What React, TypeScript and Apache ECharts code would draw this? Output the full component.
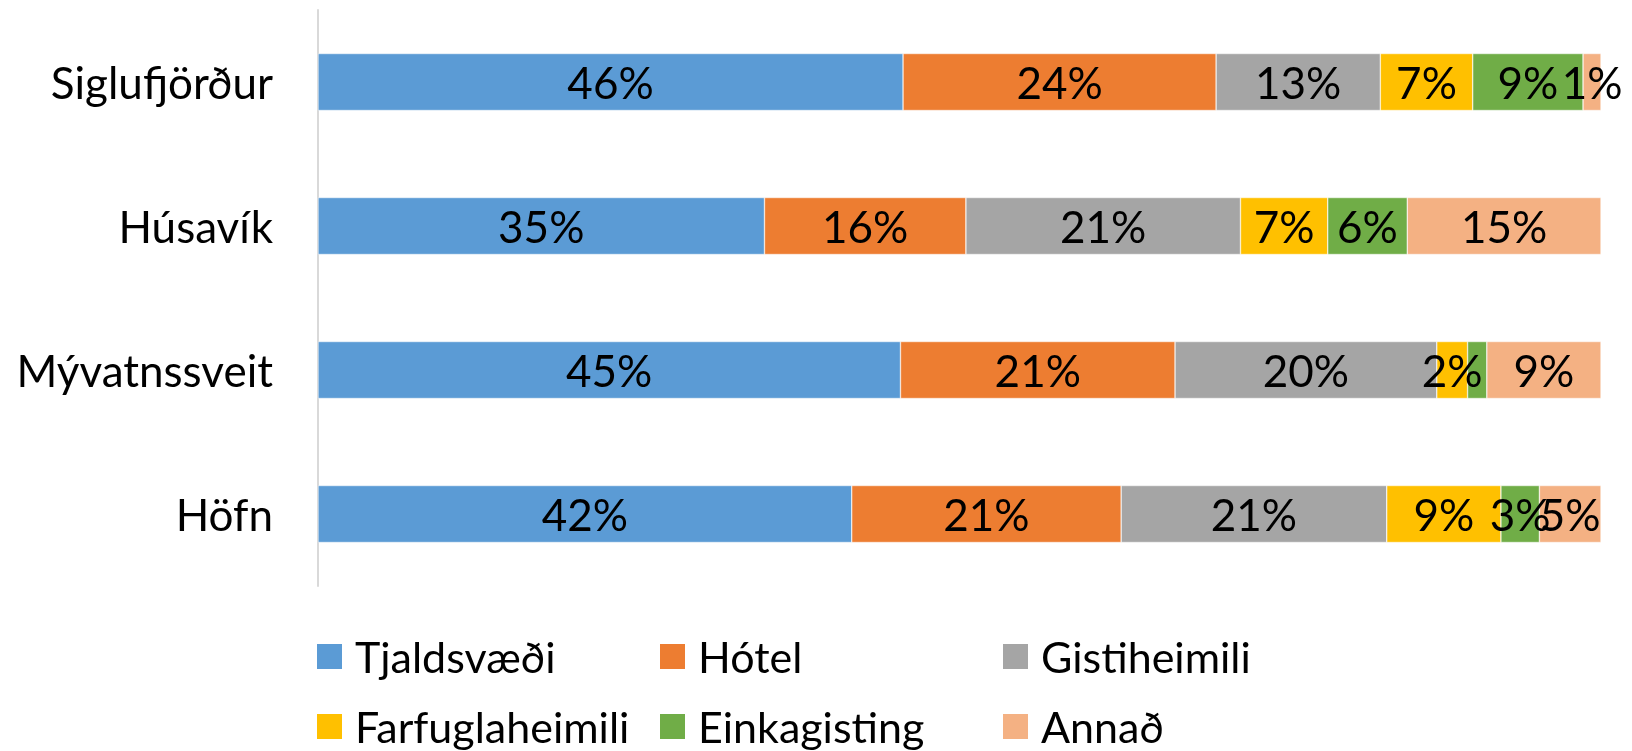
import React, { useEffect, useRef } from "react";
import * as echarts from "echarts";

const categories = ["Siglufjörður", "Húsavík", "Mývatnssveit", "Höfn"];
const seriesNames = ["Tjaldsvæði", "Hótel", "Gistiheimili", "Farfuglaheimili", "Einkagisting", "Annað"];
const tjaldsvaedi = [45.6, 34.8, 45.4, 41.6];
const hotel = [24.4, 15.7, 21.4, 21.0];
const gistiheimili = [12.8, 21.4, 20.4, 20.7];
const farfuglaheimili = [7.2, 6.8, 2.4, 8.9];
const einkagisting = [8.6, 6.2, 1.5, 3.0];
const annad = [1.4, 15.1, 8.9, 4.8];
// labels not shown in the reference: [seriesIndex, categoryIndex]
const hiddenLabels = [[4, 2]];

const colors = ["#5B9BD5", "#ED7D31", "#A5A5A5", "#FFC000", "#70AD47", "#F4B183"];
const FONT = "Lato";
const FS = 44;
const LFS = 43;
const LH = 36;

export default function App() {
  const ref = useRef<HTMLDivElement>(null);
  useEffect(() => {
    if (!ref.current) return;
    const chart = echarts.init(ref.current, undefined, { renderer: "svg" });
    const values = [tjaldsvaedi, hotel, gistiheimili, farfuglaheimili, einkagisting, annad];
    const series = seriesNames.map((name, si) => ({
      name,
      type: "bar",
      stack: "total",
      barWidth: 57,
      itemStyle: { color: colors[si], borderColor: "#ffffff", borderWidth: 0.5 },
      label: {
        show: true,
        position: "inside",
        color: "#000",
        fontFamily: FONT,
        fontSize: FS,
        formatter: (p: any) => Math.round(p.value) + "%",
      },
      data: values[si].map((v, ci) =>
        hiddenLabels.some(([s, c]) => s === si && c === ci) ? { value: v, label: { show: false } } : v
      ),
    }));
    const legends = seriesNames.map((name, i) => ({
      data: [name],
      left: 315 + (i % 3) * 343,
      top: (i < 3 ? 653 : 723) - LH / 2,
      padding: 0,
      icon: "rect",
      itemWidth: 27,
      itemHeight: 27,
      textStyle: { fontFamily: FONT, fontSize: LFS, lineHeight: LH, color: "#000", padding: [0, 0, 0, 7] },
      selectedMode: false,
    }));
    chart.setOption({
      animation: false,
      color: colors,
      legend: legends,
      grid: { left: 318, right: 31, top: 10, height: 576, containLabel: false },
      xAxis: {
        type: "value",
        min: 0,
        max: 100,
        show: false,
      },
      yAxis: {
        type: "category",
        data: categories,
        inverse: true,
        axisLine: { show: true, lineStyle: { color: "#D9D9D9", width: 2 } },
        axisTick: { show: false },
        axisLabel: { color: "#000", fontFamily: FONT, fontSize: FS, margin: 45 },
      },
      series,
    });
    return () => chart.dispose();
  }, []);
  return <div ref={ref} style={{ position: "fixed", left: 0, top: 0, width: 1632, height: 751 }} />;
}
